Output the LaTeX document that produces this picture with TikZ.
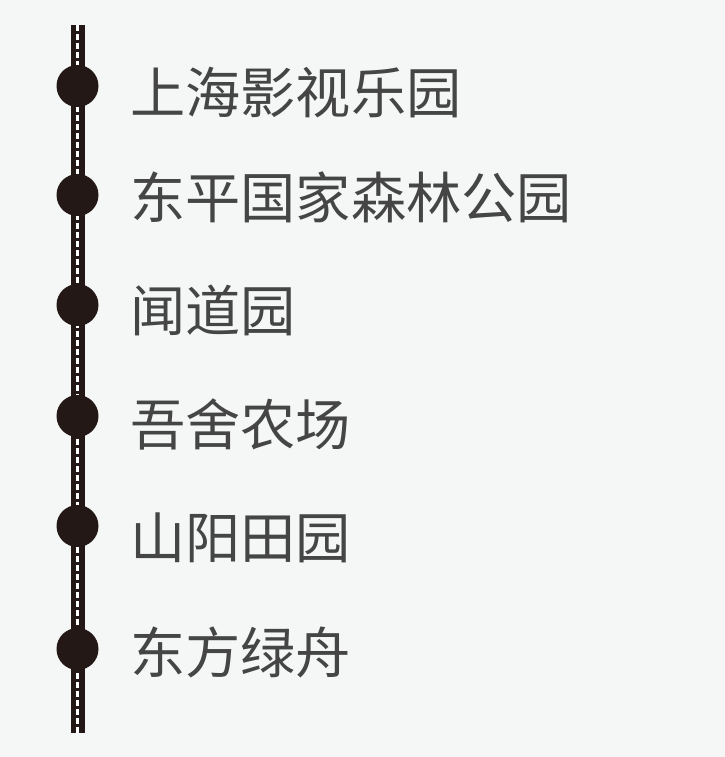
\documentclass[tikz,border=0pt]{standalone}
\usepackage{fontspec}
\newfontfamily\cjk{Noto Sans CJK SC}
\usepackage{tikz}
\usetikzlibrary{positioning}

\definecolor{bgpaper}{HTML}{F5F7F7}
\definecolor{railink}{HTML}{231815}
\definecolor{labelgray}{HTML}{454545}

\tikzset{
    stopdot/.style={circle, fill=railink, draw=none, minimum size=0.84cm, inner sep=0pt},
    stoplabel/.style={anchor=base west, inner sep=0pt, text=labelgray,
        font=\cjk\fontsize{31.4pt}{36pt}\selectfont}
}

\begin{document}
\begin{tikzpicture}[scale=1]

% Paper
\fill[bgpaper] (0,0) rectangle (14.5,15.14);
\useasboundingbox (0,0) rectangle (14.5,15.14);

% Rail ends
\coordinate (railtop) at (1.55,14.64);
\coordinate (railbot) at (1.55,0.48);

% Rail
\draw[railink, line width=0.28cm] (railtop) -- (railbot);
\draw[white, line width=0.05cm, dash pattern=on 0.12cm off 0.06cm] (railtop) -- (railbot);

% Stops
\node[stopdot] (s1) at (1.55,13.42) {};
\node[stopdot] (s2) at (1.55,11.24) {};
\node[stopdot] (s3) at (1.55,9.04) {};
\node[stopdot] (s4) at (1.55,6.82) {};
\node[stopdot] (s5) at (1.55,4.62) {};
\node[stopdot] (s6) at (1.55,2.16) {};

% Labels
\node[stoplabel] (l1) at (2.6,12.86) {上海影视乐园};
\node[stoplabel] (l2) at (2.6,10.76) {东平国家森林公园};
\node[stoplabel] (l3) at (2.6,8.50) {闻道园};
\node[stoplabel] (l4) at (2.6,6.22) {吾舍农场};
\node[stoplabel] (l5) at (2.6,3.96) {山阳田园};
\node[stoplabel] (l6) at (2.6,1.68) {东方绿舟};

\end{tikzpicture}
\end{document}
